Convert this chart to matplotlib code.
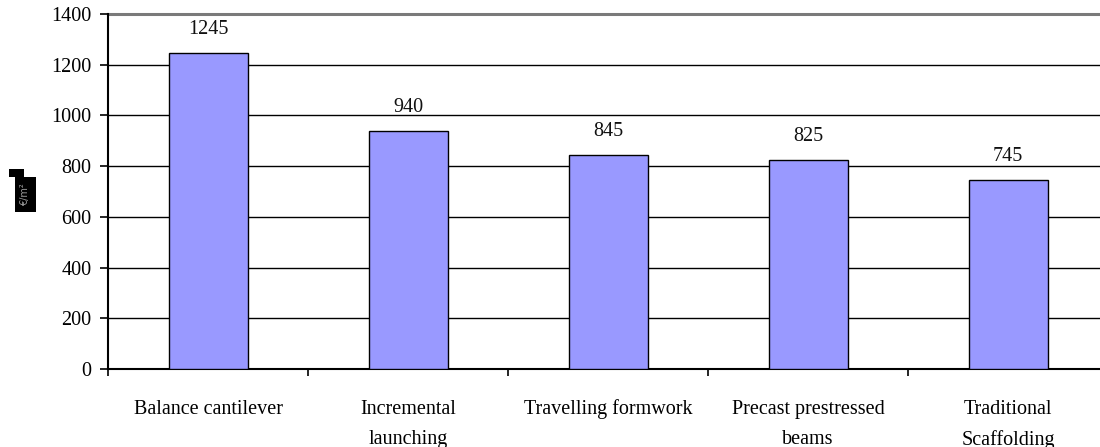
import matplotlib
matplotlib.use("Agg")
import matplotlib.pyplot as plt
from matplotlib.patches import Rectangle

categories = ["Balance cantilever", "Incremental\nlaunching", "Travelling formwork",
              "Precast prestressed\nbeams", "Traditional\nScaffolding"]
values = [1245, 940, 845, 825, 745]
yticks = [0, 200, 400, 600, 800, 1000, 1200, 1400]

plt.rcParams["font.family"] = ["Liberation Serif", "DejaVu Serif"]

fig = plt.figure(figsize=(11, 4.47), dpi=100)
ax = fig.add_axes([108 / 1100, 78 / 447, 1000 / 1100, 355 / 447])

x = list(range(len(categories)))
bars = ax.bar(x, values, width=0.395, color="#9999FF", edgecolor="black",
              linewidth=1.0, zorder=3)

for xi, v in zip(x, values):
    ax.annotate(f"{v}", (xi, v), xytext=(0, 10), textcoords="offset points",
                ha="center", va="bottom", fontsize=14.5, color="#111111")

ax.set_xlim(-0.5, len(categories) - 0.5)
ax.set_ylim(0, 1400)
ax.set_yticks(yticks)
ax.set_yticklabels([str(t) for t in yticks], fontsize=14.5)

# horizontal grid lines at each y tick
for t in yticks[1:-1]:
    ax.axhline(t, color="black", linewidth=1.0, zorder=1)
ax.axhline(1400, color="#7a7a7a", linewidth=2.2, zorder=1, clip_on=False)

ax.set_xticks(x)
ax.set_xticklabels(categories, fontsize=14.5, linespacing=1.8)
ax.set_xticks([i + 0.5 for i in range(-1, len(categories))], minor=True)
ax.tick_params(axis="x", which="major", length=0, pad=22)
ax.tick_params(axis="x", which="minor", length=5, width=1.2, direction="out")
ax.tick_params(axis="y", length=6, width=1.2, direction="out", pad=6)

for side in ("top", "right"):
    ax.spines[side].set_visible(False)
ax.spines["left"].set_linewidth(1.5)
ax.spines["bottom"].set_linewidth(1.5)

# small boxed unit label on the left
fig.patches.append(Rectangle((9 / 1100, (447 - 177) / 447), 15 / 1100, 8 / 447,
                             transform=fig.transFigure, facecolor="black",
                             edgecolor="none"))
fig.patches.append(Rectangle((15 / 1100, (447 - 212) / 447), 21 / 1100, 35 / 447,
                             transform=fig.transFigure, facecolor="black",
                             edgecolor="none"))
fig.text(25.5 / 1100, (447 - 194.5) / 447, "€/m²", rotation=90, fontsize=7,
         color="#9a9a9a", ha="center", va="center",
         family=["DejaVu Sans"])

fig.savefig("out.png", dpi=100)
